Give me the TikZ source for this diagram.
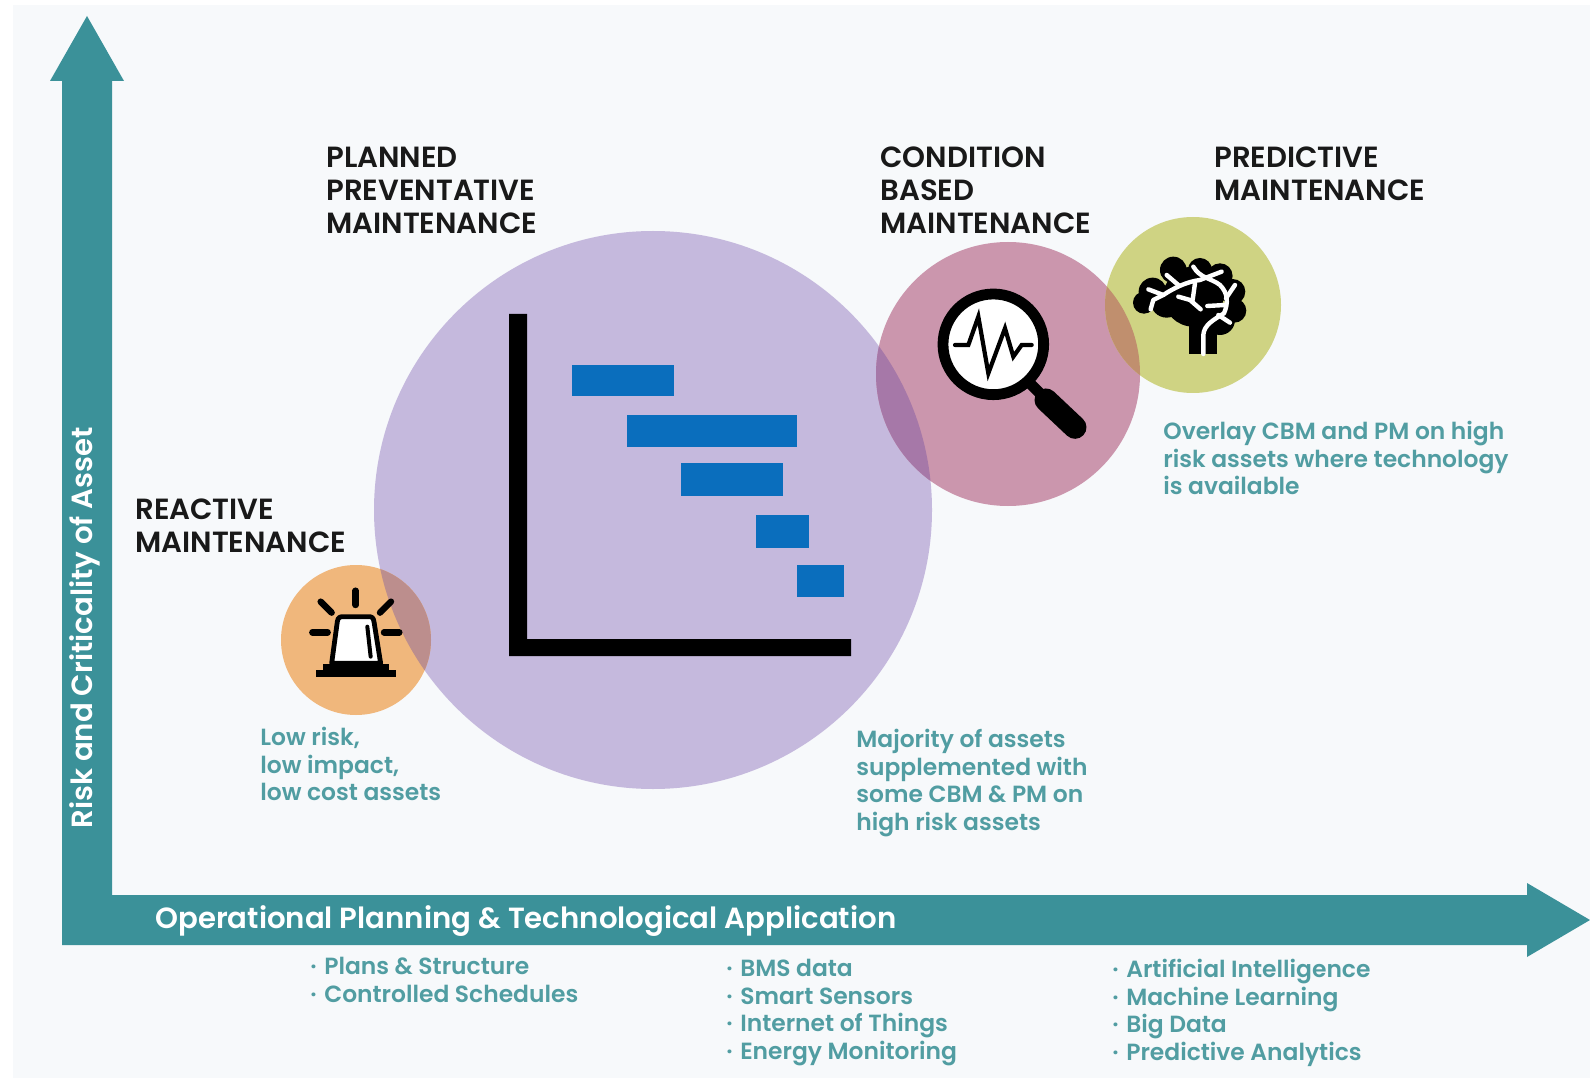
\documentclass[tikz,border=0pt]{standalone}
\usepackage{fontspec}
\setmainfont{Poppins}[BoldFont={Poppins SemiBold}]
\usetikzlibrary{calc,positioning}
\definecolor{pagebg}{HTML}{F7F9FB}
\definecolor{tealaxis}{HTML}{3B9199}
\definecolor{tealtext}{HTML}{519DA2}
\definecolor{purplefill}{HTML}{C5B9DD}
\definecolor{orangefill}{HTML}{F0B77C}
\definecolor{pinkfill}{HTML}{CB96AD}
\definecolor{greenfill}{HTML}{CFD383}
\definecolor{orangeover}{HTML}{BC8E8D}
\definecolor{pinkover}{HTML}{A678A8}
\definecolor{greenover}{HTML}{C08F6E}
\definecolor{ganttblue}{HTML}{0A6EBD}
\tikzset{
  heading/.style={anchor=north west,inner sep=0pt,align=left,text=black!90,font=\fontsize{14.6}{16.5}\selectfont\bfseries},
  note/.style={anchor=north west,inner sep=0pt,align=left,text=tealtext,font=\fontsize{11.7}{13.8}\selectfont\bfseries},
  axislabel/.style={inner sep=0pt,text=white,font=\fontsize{14.6}{16}\selectfont\bfseries},
  ganttbar/.style={fill=ganttblue},
  iconline/.style={line width=3.2pt,line cap=round,line join=round},
  brainline/.style={white,line width=2.2pt,line cap=round,line join=round},
}
\begin{document}
\begin{tikzpicture}[x=0.5pt,y=-0.5pt]
    \useasboundingbox (0,0) rectangle (1590,1080);
    \fill[white] (0,0) rectangle (1590,1080);
    \fill[pagebg] (13,5) rectangle (1590,1078);

    % axes
    \fill[tealaxis] (62,945) -- (62,81) -- (50,81) -- (87,16) -- (124,81) -- (112,81)
        -- (112,895) -- (1527,895) -- (1527,883) -- (1590,920) -- (1527,957) -- (1527,945) -- cycle;

    % circles
    \coordinate (planned) at (653,510);
    \coordinate (reactive) at (356,640);
    \coordinate (condition) at (1008,374);
    \coordinate (predictive) at (1193,305);
    \fill[purplefill] (planned) circle (279);
    \fill[orangefill] (reactive) circle (75);
    \fill[pinkfill] (condition) circle (132);
    \fill[greenfill] (predictive) circle (88);
    \begin{scope}
        \clip (planned) circle (279);
        \fill[orangeover] (reactive) circle (75);
        \fill[pinkover] (condition) circle (132);
    \end{scope}
    \begin{scope}
        \clip (condition) circle (132);
        \fill[greenover] (predictive) circle (88);
    \end{scope}

    % gantt chart
    \fill[black] (509,314) -- (527,314) -- (527,639) -- (851,639) -- (851,656) -- (509,656) -- cycle;
    \fill[ganttbar] (572,365) rectangle (674,396);
    \fill[ganttbar] (627,415) rectangle (797,447);
    \fill[ganttbar] (681,463) rectangle (783,496);
    \fill[ganttbar] (756,515) rectangle (809,548);
    \fill[ganttbar] (797,565) rectangle (844,597);

    % siren
    \begin{scope}[shift={(260,560)},scale=0.3333]
        \draw[fill=white,draw=black,line width=2.4pt,line join=round] (215,310) -- (232,185) .. controls (234,172) and (240,170) .. (250,170)
            -- (325,170) .. controls (335,170) and (340,172) .. (342,185) -- (362,310) -- cycle;
        \fill[black] (188,312) rectangle (388,332);
        \fill[black] (168,330) rectangle (408,352);
        \draw[iconline,line width=2pt] (322,200) -- (332,290);
        \draw[iconline] (287,92) -- (287,135);
        \draw[iconline] (182,125) -- (215,158);
        \draw[iconline] (393,125) -- (360,158);
        \draw[iconline] (157,217) -- (203,217);
        \draw[iconline] (372,217) -- (418,217);
    \end{scope}

    % magnifier
    \begin{scope}[shift={(900,220)},scale=0.3333]
        \draw[black,line width=5.5pt] (390,490) -- (430,530);
        \draw[black,line width=11.5pt,line cap=round] (438,540) -- (525,622);
        \draw[draw=black,fill=white,line width=5.4pt] (280,373) circle (151);
        \draw[iconline,line width=2.1pt,line join=miter] (165,375) -- (205,375) -- (235,290) -- (265,460) -- (315,325) -- (340,410) -- (365,375) -- (395,375);
    \end{scope}

    % brain
    \begin{scope}[shift={(900,220)},scale=0.3333]
        \fill[black] (820,150) circle (40) (900,150) circle (36) (960,168) circle (38)
            (998,215) circle (38) (1003,272) circle (36) (758,215) circle (42) (732,248) circle (33)
            (960,300) circle (45) (880,230) circle (90) (800,245) circle (48);
        \fill[black] (868,280) rectangle (950,402);
        \draw[brainline] (910,402) -- (910,345) .. controls (912,315) and (940,300) .. (972,280) .. controls (985,250) and (985,220) .. (960,195) .. controls (935,175) and (900,175) .. (880,140);
        \draw[brainline] (745,208) -- (790,225) .. controls (820,205) and (860,185) .. (900,180) -- (965,155);
        \draw[brainline] (790,225) -- (760,240) -- (752,268);
        \draw[brainline] (800,165) -- (835,195);
        \draw[brainline] (885,190) -- (878,240);
        \draw[brainline] (835,230) -- (870,240) -- (902,268);
        \draw[brainline] (922,258) -- (975,255);
        \draw[brainline] (955,285) -- (990,308);
        \draw[brainline] (978,235) -- (1005,195);
    \end{scope}

    % headings
    \node[heading] (plannedtitle) at (326,147) {PLANNED\\PREVENTATIVE\\MAINTENANCE};
    \node[heading] (conditiontitle) at (880,146) {CONDITION\\BASED\\MAINTENANCE};
    \node[heading] (predictivetitle) at (1214,146) {PREDICTIVE\\MAINTENANCE};
    \node[heading] (reactivetitle) at (135,498) {REACTIVE\\MAINTENANCE};

    % notes
    \node[note] (reactivenote) at (260,727) {Low risk,\\low impact,\\low cost assets};
    \node[note] (plannednote) at (856,729) {Majority of assets\\supplemented with\\some CBM \& PM on\\high risk assets};
    \node[note] (overlaynote) at (1163,421) {Overlay CBM and PM on high\\risk assets where technology\\is available};

    % axis labels
    \node[axislabel,anchor=base west] (xlabel) at (155,928) {Operational Planning \& Technological Application};
    \node[axislabel,anchor=base west,rotate=90] (ylabel) at (92,829) {Risk and Criticality of Asset};

    % lists
    \node[note] (listone) at (310,957) {·\hspace{1pt} Plans \& Structure\\·\hspace{1pt} Controlled Schedules};
    \node[note] (listtwo) at (726,959) {·\hspace{1pt} BMS data\\·\hspace{1pt} Smart Sensors\\·\hspace{1pt} Internet of Things\\·\hspace{1pt} Energy Monitoring};
    \node[note] (listthree) at (1112,959) {·\hspace{1pt} Artificial Intelligence\\·\hspace{1pt} Machine Learning\\·\hspace{1pt} Big Data\\·\hspace{1pt} Predictive Analytics};
\end{tikzpicture}
\end{document}
